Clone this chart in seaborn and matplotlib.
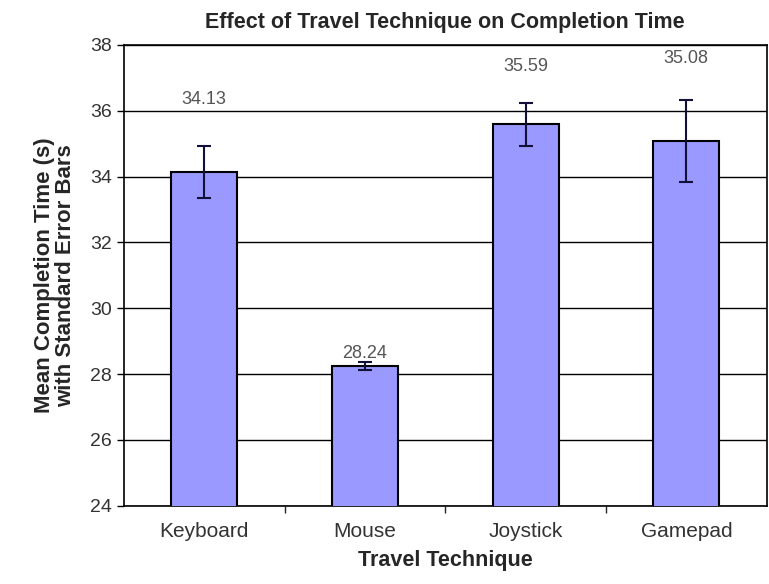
import matplotlib
matplotlib.use("Agg")
import matplotlib.pyplot as plt
import seaborn as sns
import pandas as pd

# Data
techniques = ["Keyboard", "Mouse", "Joystick", "Gamepad"]
mean_time = [34.13, 28.24, 35.59, 35.08]
std_error = [0.79, 0.12, 0.66, 1.24]
# offset of each value label above the bar top (in data units)
label_offset = [2.2, 0.4, 1.75, 2.5]

df = pd.DataFrame({"technique": techniques, "time": mean_time, "se": std_error})

sns.set_style("white")
plt.rcParams["font.family"] = ["Liberation Sans", "DejaVu Sans"]

fig = plt.figure(figsize=(7.69, 5.84), dpi=100)
ax = fig.add_axes([0.161, 0.134, 0.836, 0.789])

sns.barplot(data=df, x="technique", y="time", color="#9999FF",
            edgecolor="black", linewidth=1.5, width=0.41, saturation=1,
            errorbar=None, ax=ax, zorder=3)

ax.errorbar(range(len(techniques)), df["time"], yerr=df["se"], fmt="none",
            ecolor="#10103a", elinewidth=1.5, capsize=5, capthick=1.5, zorder=4)

for i, (v, off) in enumerate(zip(mean_time, label_offset)):
    ax.text(i, v + off, f"{v:.2f}", ha="center", va="center",
            fontsize=13, color="#555555")

ax.set_ylim(24, 38)
ax.set_yticks(range(24, 39, 2))
ax.set_xlim(-0.5, 3.5)
ax.yaxis.grid(True, color="black", linewidth=1, zorder=0)
ax.set_axisbelow(True)

for s in ax.spines.values():
    s.set_color("black")
    s.set_linewidth(1.2)

ax.tick_params(axis="y", which="major", direction="out", length=5, width=1,
               left=True, labelsize=14, colors="black", labelcolor="#333333")
ax.tick_params(axis="x", which="major", length=0, labelsize=15, pad=12,
               labelcolor="#333333")
ax.set_xticks([0.5, 1.5, 2.5], minor=True)
ax.tick_params(axis="x", which="minor", direction="out", length=5, width=1, bottom=True)

ax.set_title("Effect of Travel Technique on Completion Time", fontsize=15.5,
             fontweight="bold", pad=12)
ax.set_xlabel("Travel Technique", fontsize=15.5, fontweight="bold", labelpad=6)
ax.set_ylabel("Mean Completion Time (s)\nwith Standard Error Bars", fontsize=16,
              fontweight="bold", labelpad=10, linespacing=1.0)

plt.savefig("out.png", dpi=100)
plt.close()
